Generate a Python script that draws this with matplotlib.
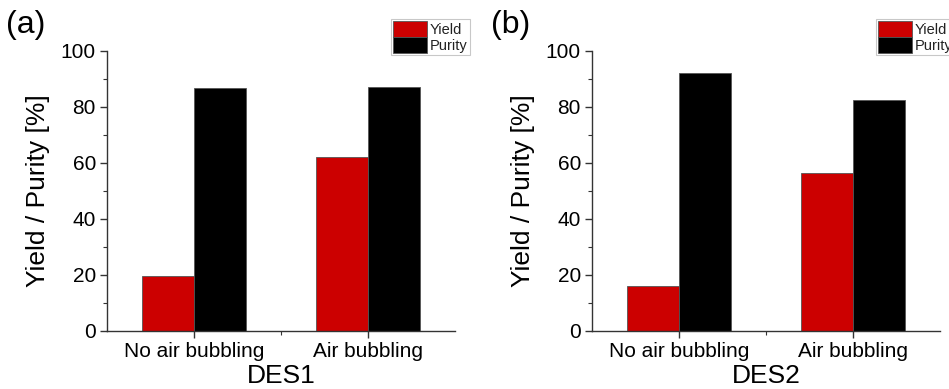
import numpy as np
import matplotlib
matplotlib.use("Agg")
import matplotlib.pyplot as plt
from matplotlib.ticker import MultipleLocator, FixedLocator

plt.rcParams['font.family'] = ['Liberation Sans', 'DejaVu Sans']

# Datos
categorias = ["No air bubbling", "Air bubbling"]
yield_des1 = [19.6, 62.0]
purity_des1 = [86.9, 87.1]
yield_des2 = [15.9, 56.5]
purity_des2 = [92.0, 82.4]
paneles = ["(a)", "(b)"]
disolventes = ["DES1", "DES2"]

rojo = "#cc0000"
negro = "#000000"
gris = "#333333"

fig = plt.figure(figsize=(9.49, 3.89), dpi=100)

# posiciones de los ejes en fraccion de la figura
lefts = [107 / 949, 592 / 949]
ancho = 348 / 949
abajo = 1 - 331 / 389
alto = 280 / 389

datos = [(yield_des1, purity_des1), (yield_des2, purity_des2)]

for i in range(2):
    ax = fig.add_axes([lefts[i], abajo, ancho, alto])
    y_vals, p_vals = datos[i]
    x = np.arange(len(categorias))
    w = 0.3
    ax.bar(x - w / 2, y_vals, w, color=rojo, edgecolor="#555555", linewidth=0.6, label="Yield")
    ax.bar(x + w / 2, p_vals, w, color=negro, edgecolor="#555555", linewidth=0.6, label="Purity")

    ax.set_xlim(-0.5, 1.5)
    ax.set_ylim(0, 100)
    ax.set_xticks(x)
    ax.set_xticklabels(categorias, fontsize=15)
    ax.xaxis.set_minor_locator(FixedLocator([0.5]))
    ax.yaxis.set_major_locator(MultipleLocator(20))
    ax.yaxis.set_minor_locator(MultipleLocator(10))
    ax.tick_params(axis="both", which="major", labelsize=15, length=5, width=1, color=gris, pad=3)
    ax.tick_params(axis="both", which="minor", length=3, width=0.8, color=gris)

    for s in ["top", "right"]:
        ax.spines[s].set_visible(False)
    for s in ["left", "bottom"]:
        ax.spines[s].set_color(gris)
        ax.spines[s].set_linewidth(1)

    ax.set_ylabel("Yield / Purity [%]", fontsize=19, labelpad=8)
    ax.set_xlabel(disolventes[i], fontsize=19, labelpad=2)

    # etiqueta del panel
    fig.text(lefts[i] - 101 / 949, 1 - 10 / 389, paneles[i], fontsize=23, va="top", ha="left")

    # leyenda
    leg_x = [391 / 949, 876 / 949][i]
    leg = ax.legend(loc="upper left", bbox_to_anchor=(leg_x, 1 - 19 / 389),
                    bbox_transform=fig.transFigure, fontsize=10.5, frameon=True,
                    fancybox=False, handlelength=2.3, handleheight=1.3,
                    labelspacing=0.0, handletextpad=0.2, borderpad=0.15,
                    borderaxespad=0)
    leg.get_frame().set_edgecolor("#bbbbbb")
    leg.get_frame().set_linewidth(0.8)
    for t in leg.get_texts():
        t.set_color("#222222")

plt.savefig("out.png", dpi=100)
